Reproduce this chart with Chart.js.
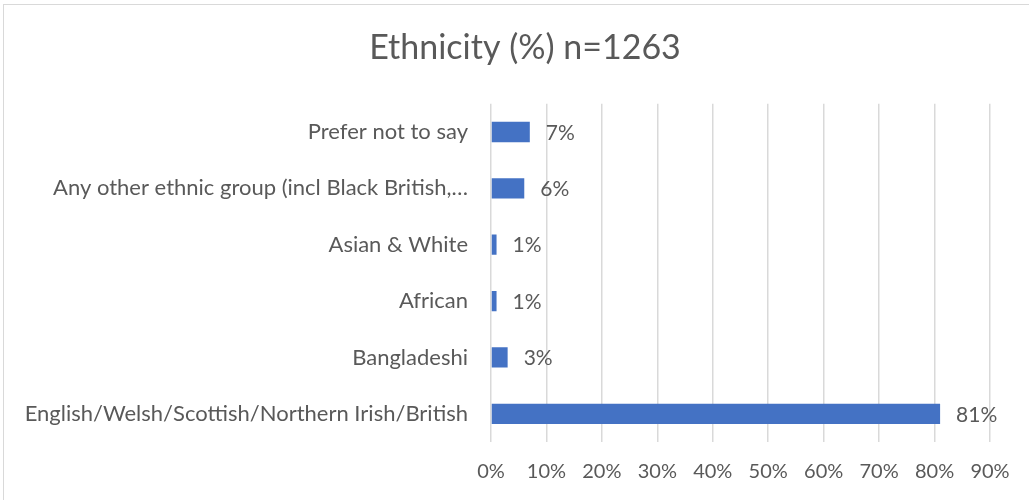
<!DOCTYPE html>
<html>
<head>
<meta charset="utf-8">
<script src="https://cdn.jsdelivr.net/npm/chart.js@4"></script>
<style>
  body { margin: 0; background: #fff; }
  #wrap { position: absolute; left: 0; top: 0; width: 1029px; height: 500px; }
</style>
</head>
<body>
<div id="wrap"><canvas id="chart" width="1029" height="500"></canvas></div>
<script>
var groups = ['Prefer not to say', 'Any other ethnic group (incl Black British,\u2026', 'Asian & White', 'African', 'Bangladeshi', 'English/Welsh/Scottish/Northern Irish/British'];
var shares = [7, 6, 1, 1, 3, 81];
var xTicks = [0, 10, 20, 30, 40, 50, 60, 70, 80, 90];

var fontName = 'Lato, "Open Sans", sans-serif';
var textGrey = '#595959';

// value labels at the end of each bar, plus the thin outer frame
var barLabels = {
    id: 'barLabels',
    afterLayout: function (chart) {
        // long category names run left past the padding; don't clip them
        chart.scales.y.left = 0;
    },
    afterDatasetsDraw: function (chart) {
        var ctx = chart.ctx;
        var meta = chart.getDatasetMeta(0);
        ctx.save();
        ctx.font = '21px ' + fontName;
        ctx.fillStyle = textGrey;
        ctx.textAlign = 'left';
        ctx.textBaseline = 'middle';
        meta.data.forEach(function (bar, i) {
            ctx.fillText(shares[i] + '%', bar.x + 16, bar.y + 1);
        });
        ctx.restore();
    },
    beforeDraw: function (chart) {
        var ctx = chart.ctx;
        ctx.save();
        ctx.strokeStyle = '#d9d9d9';
        ctx.lineWidth = 1;
        ctx.strokeRect(3.5, 4.5, chart.width + 10, chart.height + 10);
        ctx.restore();
    }
};

new Chart(document.getElementById('chart'), {
    type: 'bar',
    data: {
        labels: groups,
        datasets: [{
            data: shares,
            backgroundColor: '#4472C4',
            borderWidth: 0,
            barPercentage: 0.36,
            categoryPercentage: 1.0
        }]
    },
    options: {
        indexAxis: 'y',
        responsive: false,
        animation: false,
        layout: {
            padding: { left: 60, right: 39, bottom: -2 }
        },
        plugins: {
            legend: { display: false },
            tooltip: { enabled: false },
            title: {
                display: true,
                text: 'Ethnicity (%) n=1263',
                color: textGrey,
                font: { family: fontName, size: 34, weight: 'normal' },
                padding: { top: 28, bottom: 35 }
            }
        },
        scales: {
            x: {
                min: 0,
                max: 90,
                afterBuildTicks: function (scale) {
                    scale.ticks = xTicks.map(function (v) { return { value: v }; });
                },
                grid: { color: '#d9d9d9', lineWidth: 1.5, drawTicks: false },
                border: { display: false },
                ticks: {
                    color: textGrey,
                    font: { family: fontName, size: 20 },
                    padding: 18,
                    callback: function (v) { return v + '%'; }
                }
            },
            y: {
                grid: { display: false, drawTicks: false },
                border: { display: false },
                afterFit: function (scale) { scale.width = 431; },
                ticks: {
                    color: textGrey,
                    font: { family: fontName, size: 22 },
                    padding: 23
                }
            }
        }
    },
    plugins: [barLabels]
});
</script>
</body>
</html>
